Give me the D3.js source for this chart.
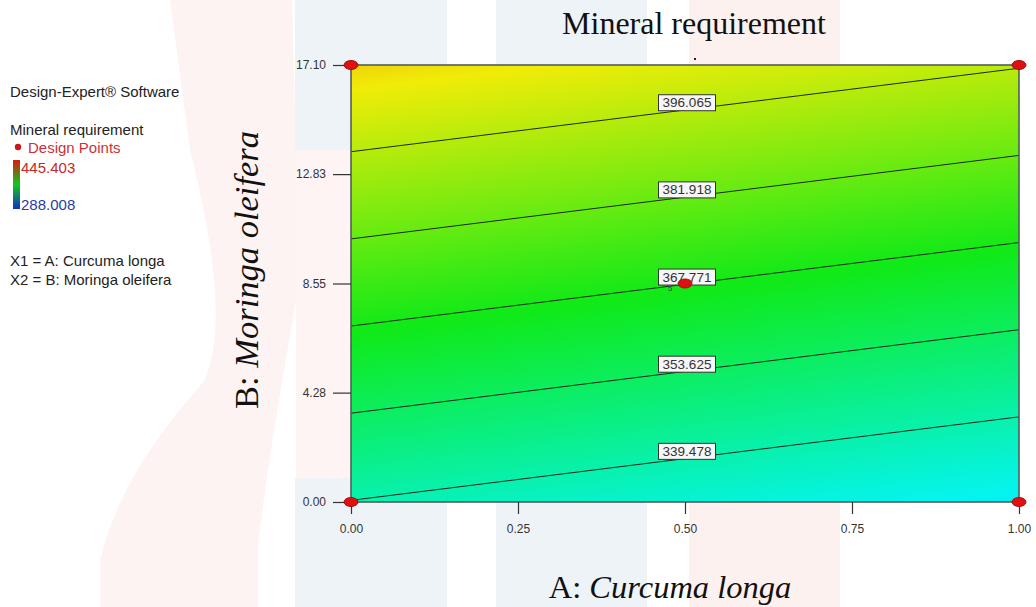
<!DOCTYPE html>
<html>
<head>
<meta charset="utf-8">
<script src="https://cdn.jsdelivr.net/npm/d3@7/dist/d3.min.js"></script>
<style>
  html, body { margin: 0; padding: 0; background: #fff; }
  svg { display: block; }
</style>
</head>
<body>
<svg id="chart" width="1036" height="607"></svg>
<script>
// Factor A: Curcuma longa (coded 0..1), factor B: Moringa oleifera (0..17.1)
const aTicks = [0, 0.25, 0.5, 0.75, 1];
const bTicks = [0, 4.28, 8.55, 12.83, 17.10];
const bDomain = [0, 17.10];

// Contour levels drawn on the response surface
const contourLevels = [339.478, 353.625, 367.771, 381.918, 396.065];

// Design points (A, B)
const designA = [0, 0, 0.5, 1, 1];
const designB = [0, 17.10, 8.55, 0, 17.10];

// Response range shown in the legend colour bar
const responseRange = [288.008, 445.403];

// Linear model for mineral requirement: R = b0 + bA*A + bB*B
const modelB0 = 339.21;
const modelBA = -13.55;
const modelBB = 4.148;

const svg = d3.select("#chart");
const plot = { left: 351, right: 1019, top: 65, bottom: 502 };

const x = d3.scaleLinear().domain([0, 1]).range([plot.left, plot.right]);
const y = d3.scaleLinear().domain(bDomain).range([plot.bottom, plot.top]);

const stops = d3.range(5).map(i => responseRange[0] + i * (responseRange[1] - responseRange[0]) / 4);
const color = d3.scaleLinear()
  .domain(stops)
  .range(["#0818e8", "#06f4f0", "#10ea18", "#f0ec08", "#e81010"])
  .clamp(true);

const response = (a, b) => modelB0 + modelBA * a + modelBB * b;

// ---- faint background logo ----
const bg = svg.append("g").attr("class", "backdrop");
bg.append("path")
  .attr("d", "M170,0 L292,0 L296,150 L296,300 C290,340 272,430 258,545 L258,607 L100,607 L100,560 C120,480 170,420 205,380 C225,330 215,250 190,150 Z")
  .attr("fill", "#fdf3f2");
bg.append("rect").attr("x", 295).attr("y", 0).attr("width", 152).attr("height", 150).attr("fill", "#eef3f7");
bg.append("rect").attr("x", 295).attr("y", 478).attr("width", 152).attr("height", 129).attr("fill", "#eef3f7");
bg.append("rect").attr("x", 296).attr("y", 150).attr("width", 151).attr("height", 328).attr("fill", "#fdf4f3");
bg.append("rect").attr("x", 496).attr("y", 0).attr("width", 151).attr("height", 607).attr("fill", "#eef3f7");
bg.append("rect").attr("x", 689).attr("y", 0).attr("width", 151).attr("height", 607).attr("fill", "#fdf1f0");

// ---- response surface ----
const defs = svg.append("defs");
defs.append("clipPath").attr("id", "plotClip")
  .append("rect")
  .attr("x", plot.left).attr("y", plot.top)
  .attr("width", plot.right - plot.left).attr("height", plot.bottom - plot.top);

const nx = 140, ny = 140;
const aMin = -0.02, aSpan = 1.04;
const bMin = -0.3, bSpan = 17.7;
const grid = new Array(nx * ny);
for (let j = 0; j < ny; j++) {
  for (let i = 0; i < nx; i++) {
    const a = aMin + aSpan * i / (nx - 1);
    const b = bMin + bSpan * j / (ny - 1);
    grid[j * nx + i] = response(a, b);
  }
}
const ext = d3.extent(grid);
const step = 0.35;
const thresholds = d3.range(Math.floor(ext[0]) - 1, ext[1] + step, step);
const bands = d3.contours().size([nx, ny]).thresholds(thresholds)(grid);

const gridProjection = d3.geoTransform({
  point: function (gx, gy) {
    const a = aMin + aSpan * (gx - 0.5) / (nx - 1);
    const b = bMin + bSpan * (gy - 0.5) / (ny - 1);
    this.stream.point(x(a), y(b));
  }
});
const gridPath = d3.geoPath(gridProjection);

const surface = svg.append("g").attr("clip-path", "url(#plotClip)");
surface.selectAll("path.band")
  .data(bands)
  .join("path")
  .attr("class", "band")
  .attr("d", gridPath)
  .attr("fill", d => color(d.value + step / 2))
  .attr("stroke", d => color(d.value + step / 2))
  .attr("stroke-width", 0.6);

// ---- contour lines ----
const levelB = (level, a) => (level - modelB0 - modelBA * a) / modelBB;
const line = d3.line().x(d => x(d[0])).y(d => y(d[1]));
surface.selectAll("path.contour")
  .data(contourLevels)
  .join("path")
  .attr("class", "contour")
  .attr("d", lv => line([[0, levelB(lv, 0)], [1, levelB(lv, 1)]]))
  .attr("fill", "none")
  .attr("stroke", "#1a2a1a")
  .attr("stroke-width", 1);

// ---- frame ----
svg.append("rect")
  .attr("x", plot.left).attr("y", plot.top)
  .attr("width", plot.right - plot.left).attr("height", plot.bottom - plot.top)
  .attr("fill", "none").attr("stroke", "#555c5c").attr("stroke-width", 1.6);

// ---- axes ----
const fmt = d3.format(".2f");
const xAxis = d3.axisBottom(x).tickValues(aTicks).tickFormat(fmt).tickSize(12).tickPadding(10);
const yAxis = d3.axisLeft(y).tickValues(bTicks).tickFormat(fmt).tickSize(18).tickPadding(7);

const gx = svg.append("g").attr("transform", `translate(0,${plot.bottom})`).call(xAxis);
const gy = svg.append("g").attr("transform", `translate(${plot.left},0)`).call(yAxis);
[gx, gy].forEach(g => {
  g.select(".domain").remove();
  g.selectAll(".tick line").attr("stroke", "#333").attr("stroke-width", 1.2);
  g.selectAll(".tick text")
    .attr("fill", "#333")
    .style("font-family", "'Liberation Sans', Arial, sans-serif")
    .style("font-size", "12px");
});

// replicate count beside the centre point
svg.append("text")
  .attr("x", x(0.5) - 17).attr("y", y(8.55) + 7)
  .attr("fill", "#444")
  .style("font-family", "'Liberation Sans', Arial, sans-serif")
  .style("font-size", "8px")
  .text("5");

// ---- contour labels ----
const labelA = 0.503;
const labels = svg.append("g");
contourLevels.forEach(lv => {
  const cx = x(labelA);
  const ly = y(levelB(lv, labelA));
  const w = 57, h = 16;
  labels.append("rect")
    .attr("x", cx - w / 2).attr("y", ly - h + 1)
    .attr("width", w).attr("height", h)
    .attr("fill", "#f8f6f6").attr("stroke", "#333").attr("stroke-width", 1);
  labels.append("text")
    .attr("x", cx).attr("y", ly - 2.5)
    .attr("text-anchor", "middle")
    .attr("fill", "#333")
    .style("font-family", "'Liberation Sans', Arial, sans-serif")
    .style("font-size", "13.5px")
    .text(d3.format(".3f")(lv));
});

// ---- design points ----
svg.append("g").selectAll("ellipse")
  .data(d3.range(designA.length))
  .join("ellipse")
  .attr("cx", i => x(designA[i]))
  .attr("cy", i => y(designB[i]))
  .attr("rx", 7).attr("ry", 4.5)
  .attr("fill", "#e01010").attr("stroke", "#a01010").attr("stroke-width", 1);

// ---- titles ----
svg.append("text")
  .attr("x", 694).attr("y", 34)
  .attr("text-anchor", "middle")
  .attr("fill", "#111")
  .style("font-family", "'Liberation Serif', 'Times New Roman', serif")
  .style("font-size", "32px")
  .text("Mineral requirement");

svg.append("rect").attr("x", 694).attr("y", 58).attr("width", 2).attr("height", 2).attr("fill", "#222");

const xl = svg.append("text")
  .attr("x", 670).attr("y", 598)
  .attr("text-anchor", "middle")
  .attr("fill", "#111")
  .style("font-family", "'Liberation Serif', 'Times New Roman', serif")
  .style("font-size", "32.5px");
xl.append("tspan").text("A: ");
xl.append("tspan").style("font-style", "italic").text("Curcuma longa");

const yl = svg.append("text")
  .attr("transform", "translate(258,270) rotate(-90)")
  .attr("text-anchor", "middle")
  .attr("fill", "#111")
  .style("font-family", "'Liberation Serif', 'Times New Roman', serif")
  .style("font-size", "34.5px");
yl.append("tspan").text("B: ");
yl.append("tspan").style("font-style", "italic").text("Moringa oleifera");

// ---- side legend ----
const leg = svg.append("g")
  .style("font-family", "'Liberation Sans', Arial, sans-serif")
  .style("font-size", "15px");
leg.append("text").attr("x", 10).attr("y", 97).attr("fill", "#222").text("Design-Expert® Software");
leg.append("text").attr("x", 10).attr("y", 135).attr("fill", "#222").text("Mineral requirement");
leg.append("circle").attr("cx", 18).attr("cy", 147).attr("r", 3.2).attr("fill", "#c81818");
leg.append("text").attr("x", 28).attr("y", 153).attr("fill", "#c8323a").text("Design Points");

const grad = defs.append("linearGradient").attr("id", "legendGrad")
  .attr("x1", 0).attr("y1", 0).attr("x2", 0).attr("y2", 1);
grad.append("stop").attr("offset", "0%").attr("stop-color", "#d81a10");
grad.append("stop").attr("offset", "50%").attr("stop-color", "#12c81c");
grad.append("stop").attr("offset", "100%").attr("stop-color", "#1030c8");
leg.append("rect").attr("x", 13).attr("y", 160).attr("width", 7).attr("height", 49).attr("fill", "url(#legendGrad)");
leg.append("text").attr("x", 21).attr("y", 173).attr("fill", "#c42828").text(d3.format(".3f")(responseRange[1]));
leg.append("text").attr("x", 21).attr("y", 210).attr("fill", "#2a3aa8").text(d3.format(".3f")(responseRange[0]));

leg.append("text").attr("x", 10).attr("y", 266).attr("fill", "#222").text("X1 = A: Curcuma longa");
leg.append("text").attr("x", 10).attr("y", 285).attr("fill", "#222").text("X2 = B: Moringa oleifera");
</script>
</body>
</html>
